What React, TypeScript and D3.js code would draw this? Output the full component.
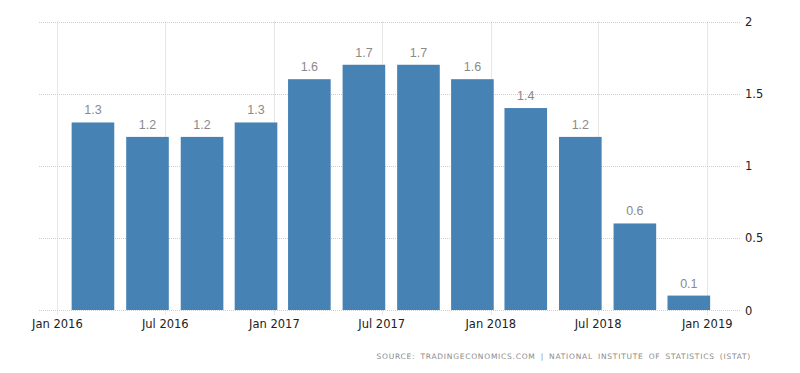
import { useEffect, useRef } from 'react';
import * as d3 from 'd3';

// quarterly values, Q1 2016 .. Q4 2018
const quarters = [
  '2016-Q1', '2016-Q2', '2016-Q3', '2016-Q4',
  '2017-Q1', '2017-Q2', '2017-Q3', '2017-Q4',
  '2018-Q1', '2018-Q2', '2018-Q3', '2018-Q4',
];
const values = [1.3, 1.2, 1.2, 1.3, 1.6, 1.7, 1.7, 1.6, 1.4, 1.2, 0.6, 0.1];
const xTicks = ['2016-01', '2016-07', '2017-01', '2017-07', '2018-01', '2018-07', '2019-01'];
const yTicks = [0, 0.5, 1, 1.5, 2];
const sourceText = 'SOURCE: TRADINGECONOMICS.COM | NATIONAL INSTITUTE OF STATISTICS (ISTAT)';

const width = 800;
const height = 373;

// bar sits two months into its quarter
function quarterDate(q: string) {
  const [y, qq] = q.split('-Q');
  return new Date(+y, (+qq - 1) * 3 + 2, 1);
}
function monthDate(m: string) {
  const [y, mm] = m.split('-');
  return new Date(+y, +mm - 1, 1);
}

export default function App() {
  const svgRef = useRef<SVGSVGElement>(null);

  useEffect(() => {
    if (!svgRef.current) return;
    const svg = d3.select(svgRef.current);
    svg.selectAll('*').remove();

    const left = 39;
    const right = 741;
    const top = 21.5;
    const bottom = 310;

    const x = d3
      .scaleTime()
      .domain([new Date(2015, 11, 1), new Date(2019, 1, 27)])
      .range([left, right]);
    const y = d3.scaleLinear().domain([0, 2]).range([bottom, top]);

    const barW = (x(new Date(2016, 3, 1)) - x(new Date(2016, 0, 1))) * 0.79;

    const data = quarters.map((q, i) => ({ date: quarterDate(q), value: values[i] }));

    // horizontal grid
    svg
      .append('g')
      .selectAll('line')
      .data(yTicks)
      .enter()
      .append('line')
      .attr('x1', left)
      .attr('x2', right)
      .attr('y1', (d) => Math.round(y(d)) + 0.5)
      .attr('y2', (d) => Math.round(y(d)) + 0.5)
      .attr('stroke', '#cfcfcf')
      .attr('stroke-dasharray', '1,1');

    // vertical grid
    svg
      .append('g')
      .selectAll('line')
      .data(xTicks)
      .enter()
      .append('line')
      .attr('x1', (d) => Math.round(x(monthDate(d))) + 0.5)
      .attr('x2', (d) => Math.round(x(monthDate(d))) + 0.5)
      .attr('y1', top)
      .attr('y2', bottom + 5)
      .attr('stroke', '#cfcfcf')
      .attr('stroke-dasharray', '1,1');

    // bars
    svg
      .append('g')
      .selectAll('rect')
      .data(data)
      .enter()
      .append('rect')
      .attr('x', (d) => x(d.date) - barW / 2)
      .attr('width', barW)
      .attr('y', (d) => y(d.value))
      .attr('height', (d) => bottom - y(d.value))
      .attr('fill', '#4682b4');

    // value labels
    svg
      .append('g')
      .selectAll('text')
      .data(data)
      .enter()
      .append('text')
      .attr('x', (d) => x(d.date))
      .attr('y', (d) => y(d.value) - 8)
      .attr('text-anchor', 'middle')
      .style('font-family', '"Liberation Sans", Arial, sans-serif')
      .style('font-size', '12.5px')
      .style('fill', '#8a8a8a')
      .text((d) => d3.format('.1f')(d.value));

    // x labels
    svg
      .append('g')
      .selectAll('text')
      .data(xTicks)
      .enter()
      .append('text')
      .attr('x', (d) => x(monthDate(d)))
      .attr('y', 328)
      .attr('text-anchor', 'middle')
      .style('font-family', '"DejaVu Sans", sans-serif')
      .style('font-size', '11.5px')
      .style('fill', '#222')
      .text((d) => d3.timeFormat('%b %Y')(monthDate(d)));

    // y labels (right side)
    svg
      .append('g')
      .selectAll('text')
      .data(yTicks)
      .enter()
      .append('text')
      .attr('x', 745)
      .attr('y', (d) => y(d) + 4.5)
      .style('font-family', '"DejaVu Sans", sans-serif')
      .style('font-size', '11.5px')
      .style('fill', '#222')
      .text((d) => String(d));

    // source line
    svg
      .append('text')
      .attr('x', 751)
      .attr('y', 359)
      .attr('text-anchor', 'end')
      .style('font-family', '"DejaVu Sans", sans-serif')
      .style('font-size', '7.5px')
      .style('letter-spacing', '0.75px')
      .style('word-spacing', '2px')
      .style('fill', '#8a8a8a')
      .text(sourceText);
  }, []);

  return (
    <svg
      ref={svgRef}
      width={width}
      height={height}
      style={{ position: 'absolute', left: 0, top: 0, background: '#fff' }}
    ></svg>
  );
}
